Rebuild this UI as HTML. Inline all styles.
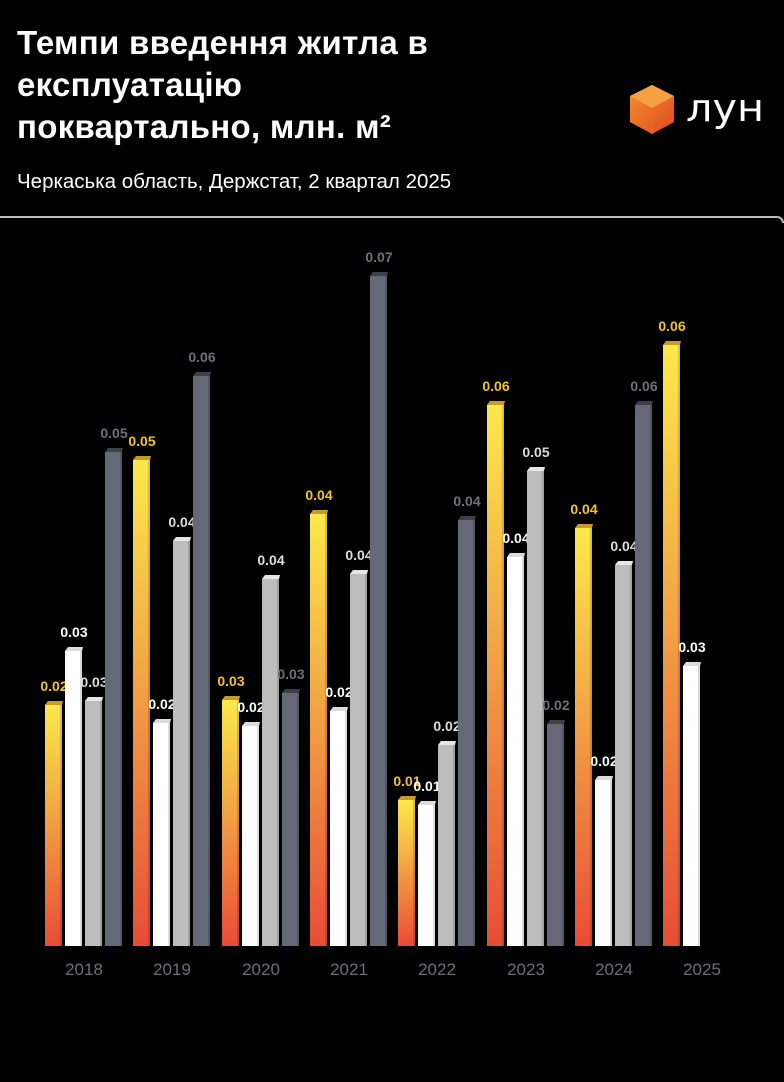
<!DOCTYPE html>
<html><head><meta charset="utf-8"><style>
html,body{margin:0;padding:0;background:#000;width:784px;height:1082px;overflow:hidden}
body{font-family:"Liberation Sans","DejaVu Sans",sans-serif;position:relative}
.t{position:absolute;left:17px;top:22px;color:#fff;font-weight:bold;font-size:33px;line-height:42px;letter-spacing:0.3px}
.s{position:absolute;left:17px;top:170px;color:#fff;font-size:20.5px}
.line{position:absolute;left:0;top:216px;width:782px;height:5px;border-top:2px solid #bbb;border-right:2px solid #bbb;border-top-right-radius:8px}
</style></head><body>
<div class="t">Темпи введення житла в<br>експлуатацію<br>поквартально, млн. м²</div>
<div class="s">Черкаська область, Держстат, 2 квартал 2025</div>
<div class="line"></div>
<svg style="position:absolute;left:0;top:0" width="784" height="1082">
<defs>
<linearGradient id="yg" x1="0" y1="0" x2="0" y2="1"><stop offset="0" stop-color="#fbe94a"/><stop offset="0.45" stop-color="#f2a444"/><stop offset="1" stop-color="#e84c36"/></linearGradient>
<linearGradient id="cube" x1="0" y1="0" x2="1" y2="1"><stop offset="0" stop-color="#f6902e"/><stop offset="1" stop-color="#de4a20"/></linearGradient>
</defs>
<polygon points="652,85 674,96 674,122 652,134 630,122 630,96" fill="url(#cube)"/>
<polygon points="652,85 674,96 652,108 630,96" fill="#f7a040"/>
<line x1="652" y1="108" x2="652" y2="134" stroke="#e8701f" stroke-width="1"/>
<text x="686" y="121" fill="#fff" font-size="38" font-family="DejaVu Sans,sans-serif" textLength="78" lengthAdjust="spacingAndGlyphs">лун</text>
<g id="bars"></g>
</svg>
<script>
var gx=[45,133,222,310,398,487,575,663];
var yrs=["2018","2019","2020","2021","2022","2023","2024","2025"];
var tops=[[701,647,697,448],[456,719,537,372],[696,722,575,689],[510,707,570,272],[796,801,741,516],[401,553,467,720],[524,776,561,401],[341,662]];
var labs=[["0.02","0.03","0.03","0.05"],["0.05","0.02","0.04","0.06"],["0.03","0.02","0.04","0.03"],["0.04","0.02","0.04","0.07"],["0.01","0.01","0.02","0.04"],["0.06","0.04","0.05","0.02"],["0.04","0.02","0.04","0.06"],["0.06","0.03"]];
var fill=["url(#yg)","#ffffff","#bdbdbd","#656977"];
var cap=["#c79a2c","#dcdcdc","#e6e6e6","#3e4046"];
var lc=["#f2c232","#ffffff","#dddddd","#6d717b"];
var B=946,h="";
for(var g=0;g<8;g++){
 for(var i=0;i<tops[g].length;i++){
  var x=gx[g]+i*20,t=tops[g][i];
  h+='<rect x="'+x+'" y="'+(t+4)+'" width="17" height="'+(B-t-4)+'" fill="'+fill[i]+'"/>';
  h+='<rect x="'+(x+15)+'" y="'+(t+4)+'" width="2" height="'+(B-t-4)+'" fill="#000" opacity="0.15"/>';
  h+='<polygon points="'+x+','+(t+4)+' '+(x+3)+','+t+' '+(x+18)+','+t+' '+(x+17)+','+(t+4)+'" fill="'+cap[i]+'"/>';
  h+='<text x="'+(x+9)+'" y="'+(t-10)+'" text-anchor="middle" font-size="14" font-weight="bold" fill="'+lc[i]+'">'+labs[g][i]+'</text>';
 }
 h+='<text x="'+(gx[g]+39)+'" y="975" text-anchor="middle" font-size="17" fill="#6b6f7a">'+yrs[g]+'</text>';
}
document.getElementById("bars").innerHTML=h;
</script>
</body></html>
